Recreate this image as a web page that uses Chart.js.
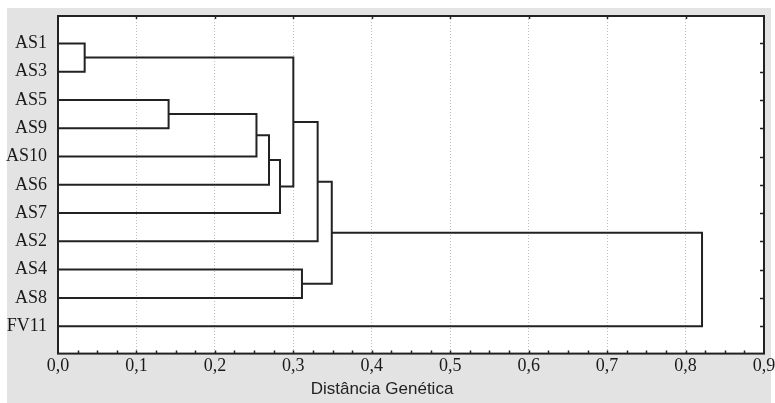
<!DOCTYPE html>
<html>
<head>
<meta charset="utf-8">
<script src="https://cdn.jsdelivr.net/npm/chart.js@4/dist/chart.umd.min.js"></script>
<style>
  html, body { margin:0; padding:0; background:#fff; }
  #wrap { width:775px; height:403px; }
</style>
</head>
<body>
<div id="wrap"><canvas id="c" width="775" height="403"></canvas></div>
<script>
// folhas na ordem do dendrograma (de cima para baixo)
const leaves = ['AS1','AS3','AS5','AS9','AS10','AS6','AS7','AS2','AS4','AS8','FV11'];

// fusões: C1..C10 na ordem abaixo
const mergeA = ['AS1','AS5','C2','C3','C4','C1','C6','AS4','C7','C9'];
const mergeB = ['AS3','AS9','AS10','AS6','AS7','C5','AS2','AS8','C8','FV11'];
const mergeHeights = [0.034, 0.141, 0.253, 0.269, 0.283, 0.300, 0.331, 0.311, 0.349, 0.821];

const xTicks = ['0,0','0,1','0,2','0,3','0,4','0,5','0,6','0,7','0,8','0,9'];

// posição/altura de cada nó
const nodes = {};
leaves.forEach((name, i) => { nodes[name] = { pos: i, h: 0 }; });

const datasets = [];
mergeHeights.forEach((h, i) => {
  const a = nodes[mergeA[i]], b = nodes[mergeB[i]];
  nodes['C' + (i + 1)] = { pos: (a.pos + b.pos) / 2, h };
  datasets.push({
    data: [ {x:a.h, y:a.pos}, {x:h, y:a.pos}, {x:h, y:b.pos}, {x:b.h, y:b.pos} ],
    showLine: true,
    borderColor: '#222',
    borderWidth: 2,
    pointRadius: 0,
    tension: 0,
    clip: false
  });
});

function noPad(s){
  s.paddingLeft = 0; s.paddingRight = 0; s.paddingTop = 0; s.paddingBottom = 0;
}

const frame = {
  id: 'frame',
  beforeDraw(chart){
    const ctx = chart.ctx;
    ctx.save();
    ctx.fillStyle = '#e3e3e3';
    ctx.fillRect(7, 8, 764, 395);
    const a = chart.chartArea;
    ctx.fillStyle = '#fff';
    ctx.fillRect(a.left, a.top, a.right - a.left, a.bottom - a.top);
    ctx.restore();
  },
  afterDraw(chart){
    const ctx = chart.ctx, a = chart.chartArea;
    const xs = chart.scales.x, ys = chart.scales.y;
    ctx.save();
    ctx.strokeStyle = '#222';
    ctx.lineWidth = 2;
    ctx.strokeRect(a.left, a.top, a.right - a.left, a.bottom - a.top);
    ctx.lineWidth = 1.5;
    ctx.beginPath();
    // marcas menores em baixo
    for (let v = 0.025; v < 0.9; v += 0.025) {
      const px = Math.round(xs.getPixelForValue(v)) + 0.5;
      ctx.moveTo(px, a.bottom); ctx.lineTo(px, a.bottom - 3);
    }
    // marcas em cima
    for (let v = 0.1; v < 0.85; v += 0.1) {
      const px = Math.round(xs.getPixelForValue(v)) + 0.5;
      ctx.moveTo(px, a.top); ctx.lineTo(px, a.top + 3);
    }
    // marcas à direita
    leaves.forEach((_, i) => {
      const py = Math.round(ys.getPixelForValue(i)) + 0.5;
      ctx.moveTo(a.right, py); ctx.lineTo(a.right - 4, py);
    });
    ctx.stroke();
    ctx.restore();
  }
};

new Chart(document.getElementById('c'), {
  type: 'scatter',
  data: { datasets },
  options: {
    responsive: false,
    animation: false,
    layout: { padding: { left: 0, top: 16, right: 11, bottom: 0 } },
    plugins: {
      legend: { display: false },
      tooltip: { enabled: false },
      title: {
        display: true,
        position: 'bottom',
        text: 'Distância Genética',
        color: '#222',
        font: { family: '"Liberation Sans", Arial, sans-serif', size: 17, weight: 'normal', lineHeight: 1.2 },
        padding: { top: 0, bottom: 3 }
      }
    },
    scales: {
      x: {
        type: 'linear',
        min: 0, max: 0.9,
        afterFit(s){ s.height = 26; noPad(s); },
        afterBuildTicks(s){ s.ticks = xTicks.map((_, i) => ({ value: i / 10 })); },
        ticks: {
          padding: 2,
          color: '#1a1a1a',
          font: { family: '"Liberation Serif", "Times New Roman", serif', size: 18 },
          callback: (v) => xTicks[Math.round(v * 10)]
        },
        grid: {
          color: (c) => (c.index === 0 || c.index === 9) ? 'rgba(0,0,0,0)' : '#bdbdbd',
          lineWidth: 1,
          drawTicks: false
        },
        border: { display: false, dash: [1, 2] }
      },
      y: {
        type: 'linear',
        reverse: true,
        min: -0.97, max: 10.97,
        afterFit(s){ s.width = 58; noPad(s); },
        afterBuildTicks(s){ s.ticks = leaves.map((_, i) => ({ value: i })); },
        ticks: {
          padding: 11,
          color: '#1a1a1a',
          font: { family: '"Liberation Serif", "Times New Roman", serif', size: 18 },
          callback: (v) => leaves[v]
        },
        grid: { display: false, drawTicks: false },
        border: { display: false }
      }
    }
  },
  plugins: [frame]
});
</script>
</body>
</html>
